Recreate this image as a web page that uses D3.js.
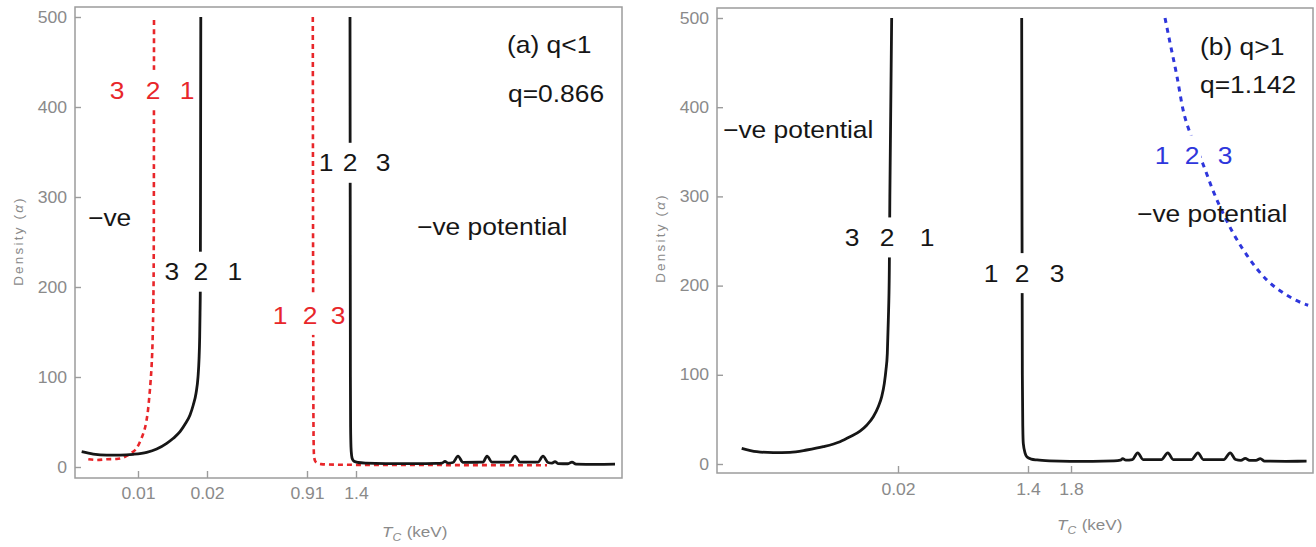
<!DOCTYPE html>
<html>
<head>
<meta charset="utf-8">
<script src="https://cdn.jsdelivr.net/npm/d3@7"></script>
<style>
  html, body { margin: 0; padding: 0; background: #fff; }
  svg { display: block; font-family: "Liberation Sans", Arial, Helvetica, sans-serif; }
</style>
</head>
<body>
<svg id="chart" width="1316" height="547"></svg>
<script>
// ---------- data: [T_C (keV), density (alpha)] ----------
const yTickValues = [0, 100, 200, 300, 400, 500];
const xTicksA = [0.01, 0.02, 0.91, 1.4];
const xTicksB = [0.02, 1.4, 1.8];

// (a) q < 1, q = 0.866
const blackA1 = [[0.00106,17],[0.0029,14.4],[0.00503,13.3],[0.00714,13.3],[0.00925,14.1],[0.01126,16.3],[0.01271,20],[0.01416,26.3],[0.01512,31.9],[0.01609,39.2],[0.01681,47.4],[0.01754,57.8],[0.01801,68.9],[0.01841,81.9],[0.0187,100.3],[0.01884,118.9],[0.01894,144.8],[0.01899,170.8],[0.01903,196.7],[0.01906,300],[0.0191,500]];
const blackA2 = [[1.340,500],[1.342,300],[1.344,100],[1.346,45],[1.350,22],[1.356,13],[1.365,8.5],[1.38,6.3],[1.42,5.0],[1.5,4.3],[1.7,3.8],[2.0,3.7],[2.2,4.0],[2.26,4.4],[2.29,6.2],[2.32,4.4],[2.37,5.0],[2.42,12],[2.47,5.2],[2.62,5.3],[2.67,5.4],[2.71,12],[2.76,5.4],[2.94,5.4],[2.99,12],[3.04,5.4],[3.22,5.4],[3.27,12],[3.32,5.0],[3.36,4.2],[3.39,6.0],[3.42,3.8],[3.52,3.6],[3.56,5.5],[3.60,3.2],[3.8,2.9],[3.99,3.2]];
const redA1 = [[0.00211,8.6],[0.00344,7.8],[0.00503,8.6],[0.00662,8.9],[0.00794,11.4],[0.009,15.9],[0.00979,20.8],[0.01029,28.1],[0.01077,37.4],[0.01116,48.6],[0.01145,63.3],[0.01164,78.1],[0.01184,96.7],[0.01199,115.2],[0.01213,144.8],[0.01222,181.9],[0.01227,218.9],[0.0123,300],[0.01232,500]];
const redA2 = [[0.968,500],[0.970,300],[0.973,100],[0.976,30],[0.980,13],[0.99,7],[1.01,4.5],[1.05,3.2],[1.2,2.6],[1.6,2.3],[2.0,2.2],[2.5,2.1],[3.0,2.0],[3.31,2.0]];

// (b) q > 1, q = 1.142
const blackB1 = [[0.00273,17.6],[0.00439,13.8],[0.00622,12.7],[0.00807,13.1],[0.00991,15.7],[0.01175,19.4],[0.01359,25.0],[0.0147,30.5],[0.0158,36.8],[0.01654,43.5],[0.01727,53.0],[0.01782,64.3],[0.0182,75.5],[0.01849,90.4],[0.01867,105.4],[0.01882,124],[0.01893,161],[0.01904,217],[0.0191,300],[0.0193,500]];
const blackB2 = [[1.333,500],[1.336,300],[1.340,100],[1.345,40],[1.350,23],[1.37,12],[1.39,7.8],[1.43,5.5],[1.484,4.5],[1.6,3.5],[1.79,3.0],[2.0,3.0],[2.2,3.5],[2.26,4.3],[2.28,6.0],[2.31,4.3],[2.37,5.0],[2.42,12.5],[2.47,5.0],[2.64,5.0],[2.70,12.5],[2.75,5.0],[2.92,5.0],[2.98,12.5],[3.03,5.0],[3.22,5.0],[3.28,12.5],[3.33,5.0],[3.38,4.0],[3.42,6.3],[3.46,4.0],[3.52,4.0],[3.56,6.0],[3.60,3.3],[3.8,3.0],[3.99,3.2]];
const blueB = [[2.674,500],[2.721,472],[2.786,434],[2.842,397],[2.907,371],[2.981,350],[3.047,330],[3.112,309],[3.214,281],[3.307,259],[3.465,229],[3.623,206],[3.772,192],[3.958,180],[4.005,178]];

// curve-order labels: digits, anchor T_C (keV) and density of the middle digit
const labelDigitsA = [["3","2","1"], ["3","2","1"], ["1","2","3"], ["1","2","3"]];
const labelAnchorA = [[0.0122,419], [0.0191,217], [1.34,338], [0.94,169]];
const labelDigitsB = [["3","2","1"], ["1","2","3"], ["1","2","3"]];
const labelAnchorB = [[0.0188,254], [1.336,214], [2.926,346]];

// ---------- styling ----------
const RED = "#e8262a", BLUE = "#2e36dc", INK = "#161616", GRAY = "#8a8a8a", FRAME = "#9c9c9c";
const STRETCH = 1.1;
const svg = d3.select("#chart");

const panels = [
  {
    frame: {left: 75, right: 622, top: 7, bottom: 478},
    xBreaks: [0, 0.01, 0.02, 0.91, 4.06], xPix: [75, 138, 207, 307, 622],
    yPix: [467, 17], xTicks: xTicksA, tickPad: 10,
    yTitle: {x: 18, y: 241}, xTitle: {x: 382, y: 537},
    series: [
      {data: redA1, color: RED, width: 2.6, dash: "5,4"},
      {data: redA2, color: RED, width: 2.6, dash: "5,4"},
      {data: blackA1, color: INK, width: 2.8},
      {data: blackA2, color: INK, width: 2.8}
    ],
    labels: [
      {digits: labelDigitsA[0], at: labelAnchorA[0], color: RED, offs: [-36, 0, 34]},
      {digits: labelDigitsA[1], at: labelAnchorA[1], color: INK, offs: [-29, 0, 34]},
      {digits: labelDigitsA[2], at: labelAnchorA[2], color: INK, offs: [-24, 0, 33]},
      {digits: labelDigitsA[3], at: labelAnchorA[3], color: RED, offs: [-30, 0, 28]}
    ],
    notes: [
      {text: "(a) q<1", x: 507, y: 53},
      {text: "q=0.866", x: 508, y: 102},
      {text: "\u2212ve", x: 88, y: 226},
      {text: "\u2212ve potential", x: 417, y: 235}
    ]
  },
  {
    frame: {left: 717, right: 1313, top: 8, bottom: 473},
    xBreaks: [0, 0.02, 1.4, 4.05], xPix: [717, 898, 1028, 1313],
    yPix: [464, 18], xTicks: xTicksB, tickPad: 11,
    yTitle: {x: 660, y: 238}, xTitle: {x: 1057, y: 530},
    series: [
      {data: blackB1, color: INK, width: 2.8},
      {data: blackB2, color: INK, width: 2.8},
      {data: blueB, color: BLUE, width: 3, dash: "5,5"}
    ],
    labels: [
      {digits: labelDigitsB[0], at: labelAnchorB[0], color: INK, offs: [-35, 0, 40]},
      {digits: labelDigitsB[1], at: labelAnchorB[1], color: INK, offs: [-31, 0, 35]},
      {digits: labelDigitsB[2], at: labelAnchorB[2], color: BLUE, offs: [-30, 0, 33]}
    ],
    notes: [
      {text: "(b) q>1", x: 1200, y: 55},
      {text: "q=1.142", x: 1200, y: 93},
      {text: "\u2212ve potential", x: 723, y: 138},
      {text: "\u2212ve potential", x: 1137, y: 222}
    ]
  }
];

panels.forEach(p => {
  const f = p.frame;
  const x = d3.scaleLinear().domain(p.xBreaks).range(p.xPix);
  const y = d3.scaleLinear().domain([0, 500]).range(p.yPix);
  const g = svg.append("g");

  // plot frame
  g.append("rect")
    .attr("x", f.left).attr("y", f.top)
    .attr("width", f.right - f.left).attr("height", f.bottom - f.top)
    .attr("fill", "none").attr("stroke", FRAME).attr("stroke-width", 1.5);

  // bottom axis, ticks pointing inward
  const xa = g.append("g")
    .attr("transform", `translate(0,${f.bottom})`)
    .call(d3.axisBottom(x).tickValues(p.xTicks).tickSize(-7).tickPadding(p.tickPad).tickFormat(d => String(d)));
  xa.select(".domain").remove();
  xa.selectAll(".tick line").attr("stroke", FRAME).attr("stroke-width", 1.4);
  xa.selectAll(".tick text")
    .attr("fill", GRAY).attr("font-size", 16)
    .attr("font-family", "Liberation Sans, Arial, sans-serif")
    .attr("transform", `scale(${STRETCH},1)`);

  // left axis, ticks pointing inward
  const ya = g.append("g")
    .attr("transform", `translate(${f.left},0)`)
    .call(d3.axisLeft(y).tickValues(yTickValues).tickSize(-6).tickPadding(8));
  ya.select(".domain").remove();
  ya.selectAll(".tick line").attr("stroke", FRAME).attr("stroke-width", 1.4);
  ya.selectAll(".tick text")
    .attr("fill", GRAY).attr("font-size", 16)
    .attr("font-family", "Liberation Sans, Arial, sans-serif")
    .attr("x", -8 / STRETCH)
    .attr("transform", `scale(${STRETCH},1)`);

  // axis titles
  const yt = g.append("text")
    .attr("transform", `translate(${p.yTitle.x},${p.yTitle.y}) rotate(-90)`)
    .attr("text-anchor", "middle").attr("dy", "0.35em")
    .attr("font-size", 13.5).attr("letter-spacing", 2.2)
    .attr("fill", GRAY);
  yt.append("tspan").text("Density (");
  yt.append("tspan").attr("font-style", "italic").text("\u03b1");
  yt.append("tspan").text(")");

  const xt = g.append("text")
    .attr("transform", `translate(${p.xTitle.x},${p.xTitle.y}) scale(${STRETCH},1)`)
    .attr("font-size", 15.5).attr("fill", GRAY);
  xt.append("tspan").attr("font-style", "italic").text("T");
  xt.append("tspan").attr("font-style", "italic").attr("font-size", 11).attr("dy", 4).text("C");
  xt.append("tspan").attr("dy", -4).attr("dx", 5).text("(keV)");

  // curves
  const line = d3.line().x(d => x(d[0])).y(d => y(d[1])).curve(d3.curveMonotoneX);
  p.series.forEach(s => {
    g.append("path")
      .attr("d", line(s.data))
      .attr("fill", "none")
      .attr("stroke", s.color)
      .attr("stroke-width", s.width)
      .attr("stroke-dasharray", s.dash || null)
      .attr("stroke-linejoin", "round");
  });

  // curve-order labels (middle digit sits on the curve with a white backing)
  p.labels.forEach(l => {
    const cx = x(l.at[0]), cy = y(l.at[1]);
    l.digits.forEach((dgt, i) => {
      const px = cx + l.offs[i];
      if (i === 1) {
        g.append("rect")
          .attr("x", px - 9).attr("y", cy - 20)
          .attr("width", 18).attr("height", 40)
          .attr("fill", "#fff");
      }
      g.append("text")
        .attr("transform", `translate(${px},${cy + 8.6}) scale(${STRETCH},1)`)
        .attr("text-anchor", "middle")
        .attr("font-size", 24).attr("fill", l.color)
        .text(dgt);
    });
  });

  // annotations
  p.notes.forEach(n => {
    g.append("text")
      .attr("transform", `translate(${n.x},${n.y}) scale(${STRETCH},1)`)
      .attr("font-size", 24).attr("fill", INK)
      .text(n.text);
  });
});
</script>
</body>
</html>
